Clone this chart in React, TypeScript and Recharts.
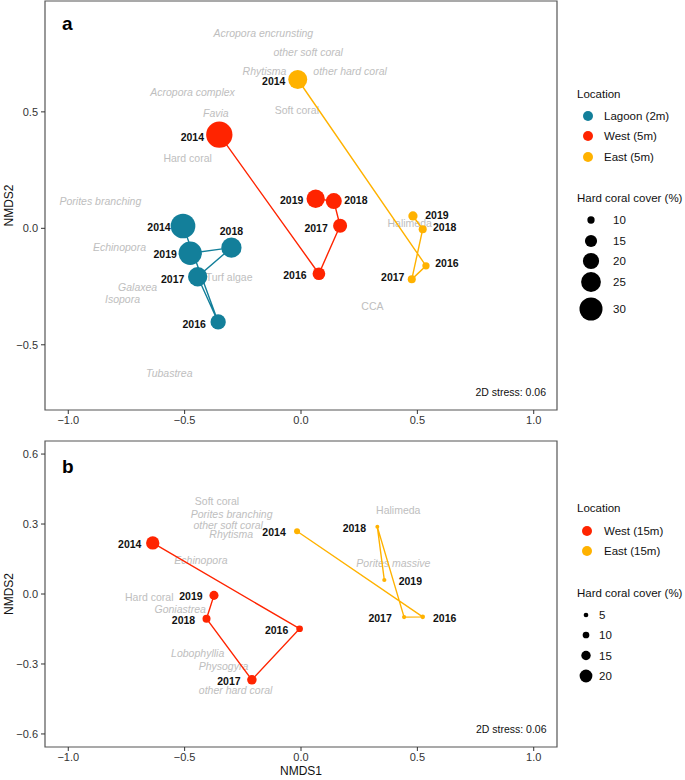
import { ScatterChart, Scatter, XAxis, YAxis, ReferenceArea, Label } from 'recharts';

const YEARS = [2014, 2016, 2017, 2018, 2019];

const X_TICKS = [-1, -0.5, 0, 0.5, 1];
const Y_TICKS_A = [-0.5, 0, 0.5];
const Y_TICKS_B = [-0.6, -0.3, 0, 0.3, 0.6];

// panel a (shallow sites)
const A_LAGOON_X = [-0.507, -0.356, -0.444, -0.299, -0.476];
const A_LAGOON_Y = [0.01, -0.402, -0.208, -0.083, -0.107];
const A_LAGOON_COVER = [32.7, 18.8, 24.3, 25.7, 30.4];
const A_WEST_X = [-0.351, 0.077, 0.168, 0.141, 0.063];
const A_WEST_Y = [0.402, -0.195, 0.011, 0.117, 0.127];
const A_WEST_COVER = [35.5, 15.6, 17.2, 19.7, 22.8];
const A_EAST_X = [-0.014, 0.537, 0.476, 0.523, 0.481];
const A_EAST_Y = [0.639, -0.161, -0.219, -0.004, 0.053];
const A_EAST_COVER = [23.8, 10.0, 10.7, 10.7, 11.9];

const A_SPECIES = [
  'Acropora encrunsting', 'other soft coral', 'Rhytisma', 'other hard coral',
  'Acropora complex', 'Favia', 'Soft coral', 'Hard coral', 'Porites branching',
  'Echinopora', 'Turf algae', 'Galaxea', 'Isopora', 'Tubastrea', 'Halimeda', 'CCA',
];
const A_SPECIES_X = [-0.162, 0.031, -0.157, 0.211, -0.466, -0.366, -0.018, -0.487, -0.862, -0.78, -0.309, -0.702, -0.767, -0.566, 0.467, 0.307];
const A_SPECIES_Y = [0.838, 0.755, 0.675, 0.675, 0.586, 0.496, 0.508, 0.303, 0.118, -0.079, -0.21, -0.253, -0.305, -0.62, 0.024, -0.333];

// panel b (15 m sites)
const B_WEST_X = [-0.637, -0.006, -0.211, -0.406, -0.374];
const B_WEST_Y = [0.219, -0.149, -0.368, -0.106, -0.006];
const B_WEST_COVER = [20.7, 10.0, 15.2, 12.6, 14.5];
const B_EAST_X = [-0.017, 0.523, 0.443, 0.328, 0.358];
const B_EAST_Y = [0.269, -0.098, -0.099, 0.288, 0.06];
const B_EAST_COVER = [8.4, 4.5, 3.5, 2.5, 3.5];

const B_SPECIES = [
  'Soft coral', 'Porites branching', 'other soft coral', 'Rhytisma', 'Echinopora',
  'Hard coral', 'Goniastrea', 'Lobophyllia', 'Physogyra', 'other hard coral',
  'Halimeda', 'Porites massive',
];
const B_SPECIES_X = [-0.361, -0.298, -0.313, -0.3, -0.43, -0.652, -0.519, -0.444, -0.333, -0.281, 0.418, 0.397];
const B_SPECIES_Y = [0.399, 0.343, 0.297, 0.259, 0.146, -0.014, -0.063, -0.254, -0.307, -0.412, 0.36, 0.133];

const LOCATIONS_A = ['Lagoon (2m)', 'West (5m)', 'East (5m)'];
const LOCATIONS_B = ['West (15m)', 'East (15m)'];
const SIZE_BREAKS_A = [10, 15, 20, 25, 30];
const SIZE_BREAKS_B = [5, 10, 15, 20];

const PLAIN_LABELS = ['Soft coral', 'Hard coral', 'Turf algae', 'Halimeda', 'CCA'];

const TEAL = '#137F9A';
const RED = '#FF2400';
const ORANGE = '#FFB200';
const FONT = '"Liberation Sans", Arial, sans-serif';

// point diameter (px) for a given hard coral cover
const diamA = (v: number) => 6.8 * Math.sqrt(v) - 14.2;
const diamB = (v: number) => 0.014 * v * v + 0.19 * v + 3.4;

// where each year label sits relative to its point
const NUDGE_A: Record<string, [number, number]> = {
  'Lagoon-2014': [-24, 1], 'Lagoon-2016': [-24, 2], 'Lagoon-2017': [-25, 2],
  'Lagoon-2018': [0, -17], 'Lagoon-2019': [-25, 1],
  'West-2014': [-27, 2], 'West-2016': [-24, 1], 'West-2017': [-24, 2],
  'West-2018': [22, -1], 'West-2019': [-24, 1],
  'East-2014': [-24, 2], 'East-2016': [21, -3], 'East-2017': [-19, -2],
  'East-2018': [22, -2], 'East-2019': [24, -1],
};
const NUDGE_B: Record<string, [number, number]> = {
  'West-2014': [-23, 1], 'West-2016': [-23, 1], 'West-2017': [-23, 1],
  'West-2018': [-23, 1], 'West-2019': [-23, 1],
  'East-2014': [-23, 1], 'East-2016': [22, 1], 'East-2017': [-24, 1],
  'East-2018': [-23, 1], 'East-2019': [26, 1],
};

const rows = (site: string, xs: number[], ys: number[], covers: number[]) =>
  YEARS.map((year, i) => ({ site, year, x: xs[i], y: ys[i], cover: covers[i] }));

const speciesRows = (names: string[], xs: number[], ys: number[]) =>
  names.map((name, i) => ({ name, x: xs[i], y: ys[i] }));

const fmt = (v: number) => (v < 0 ? '\u2212' : '') + Math.abs(v).toFixed(1);

interface Series {
  color: string;
  rows: ReturnType<typeof rows>;
}

interface PanelProps {
  series: Series[];
  species: ReturnType<typeof speciesRows>;
  yDomain: [number, number];
  yTicks: number[];
  nudge: Record<string, [number, number]>;
  diam: (v: number) => number;
  height: number;
  top: number;
  xHeight: number;
  xTitle?: string;
}

function Panel({ series, species, yDomain, yTicks, nudge, diam, height, top, xHeight, xTitle }: PanelProps) {
  const all = series.flatMap((s) => s.rows);
  return (
    <ScatterChart width={560} height={height} margin={{ top, right: 3, bottom: 0, left: 0 }}>
      <XAxis
        type="number"
        dataKey="x"
        domain={[-1.1, 1.1]}
        ticks={X_TICKS}
        tickFormatter={fmt}
        allowDataOverflow
        axisLine={false}
        tickSize={4}
        tickMargin={2}
        height={xHeight}
        tick={{ fill: '#333', fontSize: 11, fontFamily: FONT }}
        tickLine={{ stroke: '#333' }}
      >
        {xTitle && (
          <Label
            content={(p: any) => {
              const vb = p.viewBox || { x: 45, y: 747, width: 512 };
              return (
                <text x={vb.x + vb.width / 2} y={vb.y + 24} textAnchor="middle" dominantBaseline="central"
                  fontSize={12} fontFamily={FONT} fill="#111">
                  {xTitle}
                </text>
              );
            }}
          />
        )}
      </XAxis>
      <YAxis
        type="number"
        dataKey="y"
        domain={yDomain}
        ticks={yTicks}
        tickFormatter={fmt}
        allowDataOverflow
        axisLine={false}
        tickSize={4}
        tickMargin={3}
        width={45}
        tick={{ fill: '#333', fontSize: 11, fontFamily: FONT }}
        tickLine={{ stroke: '#333' }}
      >
        <Label
          content={(p: any) => {
            const vb = p.viewBox || { y: top, height: 300 };
            const cy = vb.y + vb.height / 2;
            return (
              <text x={9} y={cy} transform={`rotate(-90 9 ${cy})`} textAnchor="middle" dominantBaseline="central"
                fontSize={12} fontFamily={FONT} fill="#111">
                NMDS2
              </text>
            );
          }}
        />
      </YAxis>
      <Scatter
        data={species}
        isAnimationActive={false}
        shape={(p: any) => (
          <text x={p.cx} y={p.cy} textAnchor="middle" dominantBaseline="central" fontSize={10.5}
            fontFamily={FONT} fill="#BEBEBE"
            fontStyle={PLAIN_LABELS.includes(p.payload.name) ? 'normal' : 'italic'}>
            {p.payload.name}
          </text>
        )}
      />
      {series.map((s) => (
        <Scatter
          key={s.color}
          data={s.rows}
          fill={s.color}
          line={{ stroke: s.color, strokeWidth: 1.4 }}
          lineType="joint"
          isAnimationActive={false}
          shape={(p: any) => <circle cx={p.cx} cy={p.cy} r={diam(p.payload.cover) / 2} fill={s.color} />}
        />
      ))}
      <Scatter
        data={all}
        isAnimationActive={false}
        shape={(p: any) => {
          const n = nudge[`${p.payload.site}-${p.payload.year}`] || [0, 0];
          return (
            <text x={p.cx + n[0]} y={p.cy + n[1]} textAnchor="middle" dominantBaseline="central"
              fontSize={10.5} fontWeight="bold" fontFamily={FONT} fill="#111">
              {p.payload.year}
            </text>
          );
        }}
      />
      <ReferenceArea x1={-1.1} x2={1.1} y1={yDomain[0]} y2={yDomain[1]} fill="none"
        stroke="#555" strokeWidth={1.2} ifOverflow="visible" />
    </ScatterChart>
  );
}

function Legends() {
  const colsA = [TEAL, RED, ORANGE];
  const colsB = [RED, ORANGE];
  const locYA = [116, 136, 157];
  const sizeYA = [220, 241, 261, 282, 309];
  const locYB = [531, 551];
  const sizeYB = [615, 635, 655.5, 676];
  const txt = { fontSize: 11.5, fontFamily: FONT, fill: '#111' };
  return (
    <svg width={685} height={780} style={{ position: 'absolute', left: 0, top: 0, pointerEvents: 'none' }}>
      <text x={62} y={29.5} fontSize={19} fontWeight="bold" fontFamily={FONT} fill="#000">a</text>
      <text x={62} y={473} fontSize={19} fontWeight="bold" fontFamily={FONT} fill="#000">b</text>
      <text x={546} y={395.5} textAnchor="end" fontSize={10.5} fontFamily={FONT} fill="#111">2D stress: 0.06</text>
      <text x={546.5} y={733} textAnchor="end" fontSize={10.5} fontFamily={FONT} fill="#111">2D stress: 0.06</text>

      <text x={577} y={98} {...txt}>Location</text>
      {LOCATIONS_A.map((l, i) => (
        <g key={l}>
          <circle cx={588} cy={locYA[i]} r={5} fill={colsA[i]} />
          <text x={604} y={locYA[i] + 4} {...txt}>{l}</text>
        </g>
      ))}
      <text x={577} y={202} {...txt}>Hard coral cover (%)</text>
      {SIZE_BREAKS_A.map((v, i) => (
        <g key={v}>
          <circle cx={591} cy={sizeYA[i]} r={diamA(v) / 2} fill="#000" />
          <text x={613} y={sizeYA[i] + 4} {...txt}>{v}</text>
        </g>
      ))}

      <text x={577} y={512} {...txt}>Location</text>
      {LOCATIONS_B.map((l, i) => (
        <g key={l}>
          <circle cx={587} cy={locYB[i]} r={5} fill={colsB[i]} />
          <text x={604} y={locYB[i] + 4} {...txt}>{l}</text>
        </g>
      ))}
      <text x={577} y={597} {...txt}>Hard coral cover (%)</text>
      {SIZE_BREAKS_B.map((v, i) => (
        <g key={v}>
          <circle cx={586} cy={sizeYB[i]} r={diamB(v) / 2} fill="#000" />
          <text x={599} y={sizeYB[i] + 4} {...txt}>{v}</text>
        </g>
      ))}
    </svg>
  );
}

export default function App() {
  const seriesA: Series[] = [
    { color: TEAL, rows: rows('Lagoon', A_LAGOON_X, A_LAGOON_Y, A_LAGOON_COVER) },
    { color: RED, rows: rows('West', A_WEST_X, A_WEST_Y, A_WEST_COVER) },
    { color: ORANGE, rows: rows('East', A_EAST_X, A_EAST_Y, A_EAST_COVER) },
  ];
  const seriesB: Series[] = [
    { color: RED, rows: rows('West', B_WEST_X, B_WEST_Y, B_WEST_COVER) },
    { color: ORANGE, rows: rows('East', B_EAST_X, B_EAST_Y, B_EAST_COVER) },
  ];
  return (
    <div style={{ position: 'absolute', left: 0, top: 0, width: 685, height: 780, background: '#fff', fontFamily: FONT }}>
      <div style={{ position: 'absolute', left: 0, top: 0 }}>
        <Panel
          series={seriesA}
          species={speciesRows(A_SPECIES, A_SPECIES_X, A_SPECIES_Y)}
          yDomain={[-0.78, 0.976]}
          yTicks={Y_TICKS_A}
          nudge={NUDGE_A}
          diam={diamA}
          height={430}
          top={1}
          xHeight={20}
        />
      </div>
      <div style={{ position: 'absolute', left: 0, top: 430 }}>
        <Panel
          series={seriesB}
          species={speciesRows(B_SPECIES, B_SPECIES_X, B_SPECIES_Y)}
          yDomain={[-0.656, 0.656]}
          yTicks={Y_TICKS_B}
          nudge={NUDGE_B}
          diam={diamB}
          height={350}
          top={11}
          xHeight={33}
          xTitle="NMDS1"
        />
      </div>
      <Legends />
    </div>
  );
}
